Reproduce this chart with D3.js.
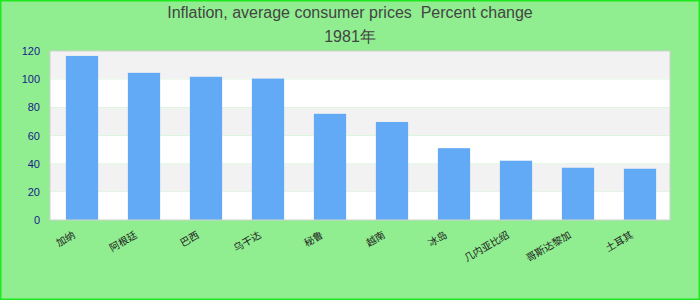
<!DOCTYPE html>
<html>
<head>
<meta charset="utf-8">
<script src="https://cdn.jsdelivr.net/npm/d3@7"></script>
<style>
html,body{margin:0;padding:0;background:#90ee90;}
svg{display:block;}
</style>
</head>
<body>
<script>
const titleLines = ["Inflation, average consumer prices\u00a0\u00a0Percent change", "1981年"];
const categories = ["加纳", "阿根廷", "巴西", "乌干达", "秘鲁", "越南", "冰岛", "几内亚比绍", "哥斯达黎加", "土耳其"];
const values = [116.5, 104.5, 101.7, 100.4, 75.4, 69.6, 51.0, 42.1, 37.1, 36.4];
const yTicks = [0, 20, 40, 60, 80, 100, 120];

const W = 700, H = 300;
const m = {top: 51, right: 30, bottom: 80, left: 50};
const pw = W - m.left - m.right, ph = H - m.top - m.bottom;

const svg = d3.select("body").append("svg").attr("width", W).attr("height", H);
svg.append("rect").attr("x", 0.75).attr("y", 0.75).attr("width", W - 1.5).attr("height", H - 1.5)
  .attr("fill", "#90ee90").attr("stroke", "#1ee81e").attr("stroke-width", 1.5);

svg.selectAll("text.title").data(titleLines).join("text").attr("class", "title")
  .attr("x", W / 2).attr("y", (d, i) => 18 + i * 24)
  .attr("text-anchor", "middle")
  .attr("font-family", "Liberation Sans, Arial, sans-serif").attr("font-size", 16)
  .attr("fill", "#444").text(d => d);

const x = d3.scaleBand().domain(categories).range([1, pw + 1]).paddingInner(0.48).paddingOuter(0.24);
const y = d3.scaleLinear().domain([0, 120]).range([ph, 0]);

const g = svg.append("g").attr("transform", `translate(${m.left},${m.top})`);

// alternating bands
const bands = d3.range(yTicks.length - 1);
g.selectAll("rect.band").data(bands).join("rect").attr("class", "band")
  .attr("x", 0).attr("width", pw)
  .attr("y", i => y(yTicks[i + 1])).attr("height", i => y(yTicks[i]) - y(yTicks[i + 1]))
  .attr("fill", i => (i % 2 === 0) ? "#ffffff" : "#f2f2f2");

g.selectAll("rect.bar").data(values).join("rect").attr("class", "bar")
  .attr("x", (d, i) => x(categories[i])).attr("width", x.bandwidth())
  .attr("y", d => y(d)).attr("height", d => y(0) - y(d))
  .attr("fill", "#62aaf5");

g.append("rect").attr("x", 0).attr("y", 0).attr("width", pw).attr("height", ph)
  .attr("fill", "none").attr("stroke", "#d0d0d0").attr("stroke-width", 1);

// y axis
const ya = g.append("g").call(d3.axisLeft(y).tickValues(yTicks).tickSize(0).tickPadding(10));
ya.select(".domain").remove();
ya.selectAll("text").attr("font-family", "Liberation Sans, Arial, sans-serif").attr("font-size", 11).attr("fill", "#1a1a8a");

// x axis
const xa = g.append("g").attr("transform", `translate(0,${ph})`).call(d3.axisBottom(x).tickSize(0).tickPadding(0));
xa.select(".domain").remove();
xa.selectAll("text")
  .attr("font-family", "Noto Sans CJK SC, sans-serif").attr("font-size", 10).attr("fill", "#222")
  .attr("text-anchor", "end").attr("dy", null).attr("y", 0)
  .attr("transform", "translate(-6,17) rotate(-30)");
</script>
</body>
</html>
